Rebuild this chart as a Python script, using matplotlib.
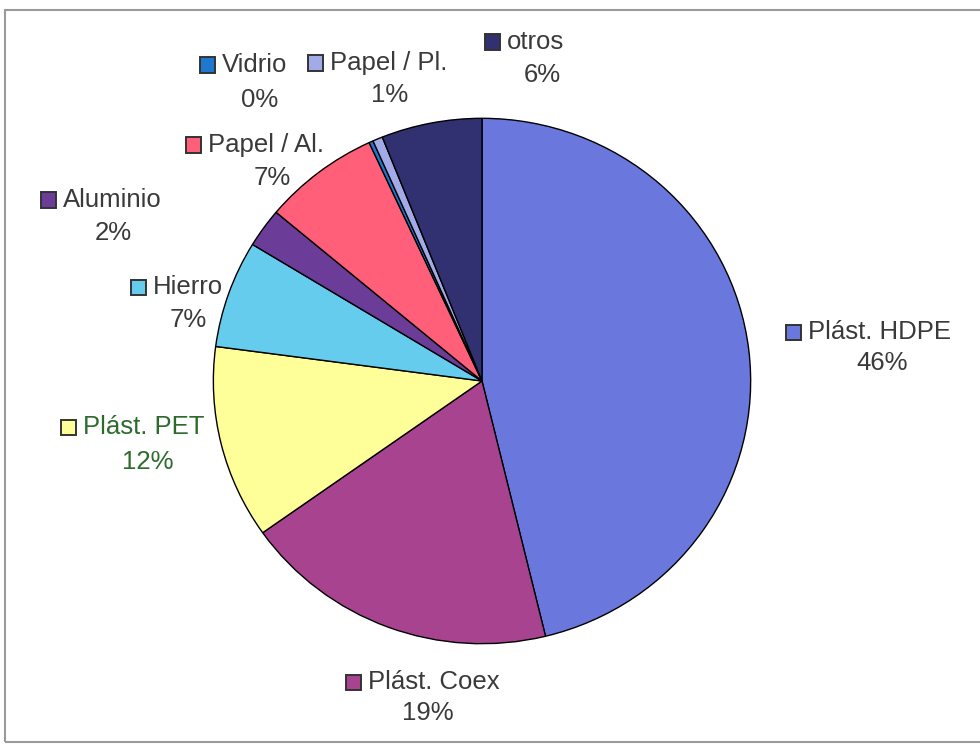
import matplotlib.pyplot as plt
from matplotlib.patches import Rectangle

# --- Data (clockwise from 12 o'clock) ---
CATEGORIES = ['Plást. HDPE', 'Plást. Coex', 'Plást. PET', 'Hierro', 'Aluminio',
              'Papel / Al.', 'Vidrio', 'Papel / Pl.', 'otros']
SHARES = [46.2, 19.0, 11.9, 6.6, 2.4, 7.0, 0.25, 0.6, 6.05]

# --- Styling ---
COLORS = ['#6a78dd', '#a8438f', '#ffff99', '#66ccee', '#6b3d98',
          '#ff5f78', '#1f78d0', '#a3aae8', '#313172']
TEXT_COLORS = ['#3a3a3a', '#3a3a3a', '#2d6b2d', '#3a3a3a', '#3a3a3a',
               '#3a3a3a', '#3a3a3a', '#3a3a3a', '#3a3a3a']
# label anchors in pixels (x of name start, y of name line, x/y of percent)
LABEL_POS = {
    'Plást. HDPE': (808, 332, 882, 363),
    'Plást. Coex': (368, 682, 428, 713),
    'Plást. PET': (83, 427, 148, 462),
    'Hierro': (153, 287, 188, 320),
    'Aluminio': (63, 200, 113, 233),
    'Papel / Al.': (208, 145, 272, 178),
    'Vidrio': (222, 65, 260, 100),
    'Papel / Pl.': (330, 63, 390, 95),
    'otros': (507, 42, 542, 75),
}
FS = 18.5

W, H = 980, 747
plt.rcParams['font.family'] = ['Liberation Sans', 'DejaVu Sans']

fig = plt.figure(figsize=(W / 100, H / 100), dpi=100)
fig.patch.set_facecolor('white')

# chart frame
fig.add_artist(Rectangle((5 / W, 1 - 742 / H), (W + 10) / W, (742 - 10) / H,
                         transform=fig.transFigure, fill=False,
                         edgecolor='#9a9a9a', lw=1.5))

cx, cy, rx, ry = 482, 381, 270, 264
ax = fig.add_axes([(cx - rx) / W, 1 - (cy + ry) / H, 2 * rx / W, 2 * ry / H])
ax.pie(SHARES, colors=COLORS, startangle=90, counterclock=False, radius=1,
       wedgeprops=dict(edgecolor='black', linewidth=1.0))
ax.set_xlim(-1.005, 1.005)
ax.set_ylim(-1.005, 1.005)
ax.set_aspect('auto')
ax.axis('off')

total = sum(SHARES)
for name, val, col, tcol in zip(CATEGORIES, SHARES, COLORS, TEXT_COLORS):
    nx, ny, px, py = LABEL_POS[name]
    fig.text(nx / W, 1 - ny / H, name, fontsize=FS, color=tcol,
             ha='left', va='center')
    # legend key square
    fig.add_artist(Rectangle(((nx - 22) / W, 1 - (ny + 7.5) / H), 15 / W, 15 / H,
                             transform=fig.transFigure, facecolor=col,
                             edgecolor='#333333', lw=1.4))
    fig.text(px / W, 1 - py / H, f"{val / total * 100:.0f}%", fontsize=FS,
             color=tcol, ha='center', va='center')

plt.savefig('out.png', dpi=100)
